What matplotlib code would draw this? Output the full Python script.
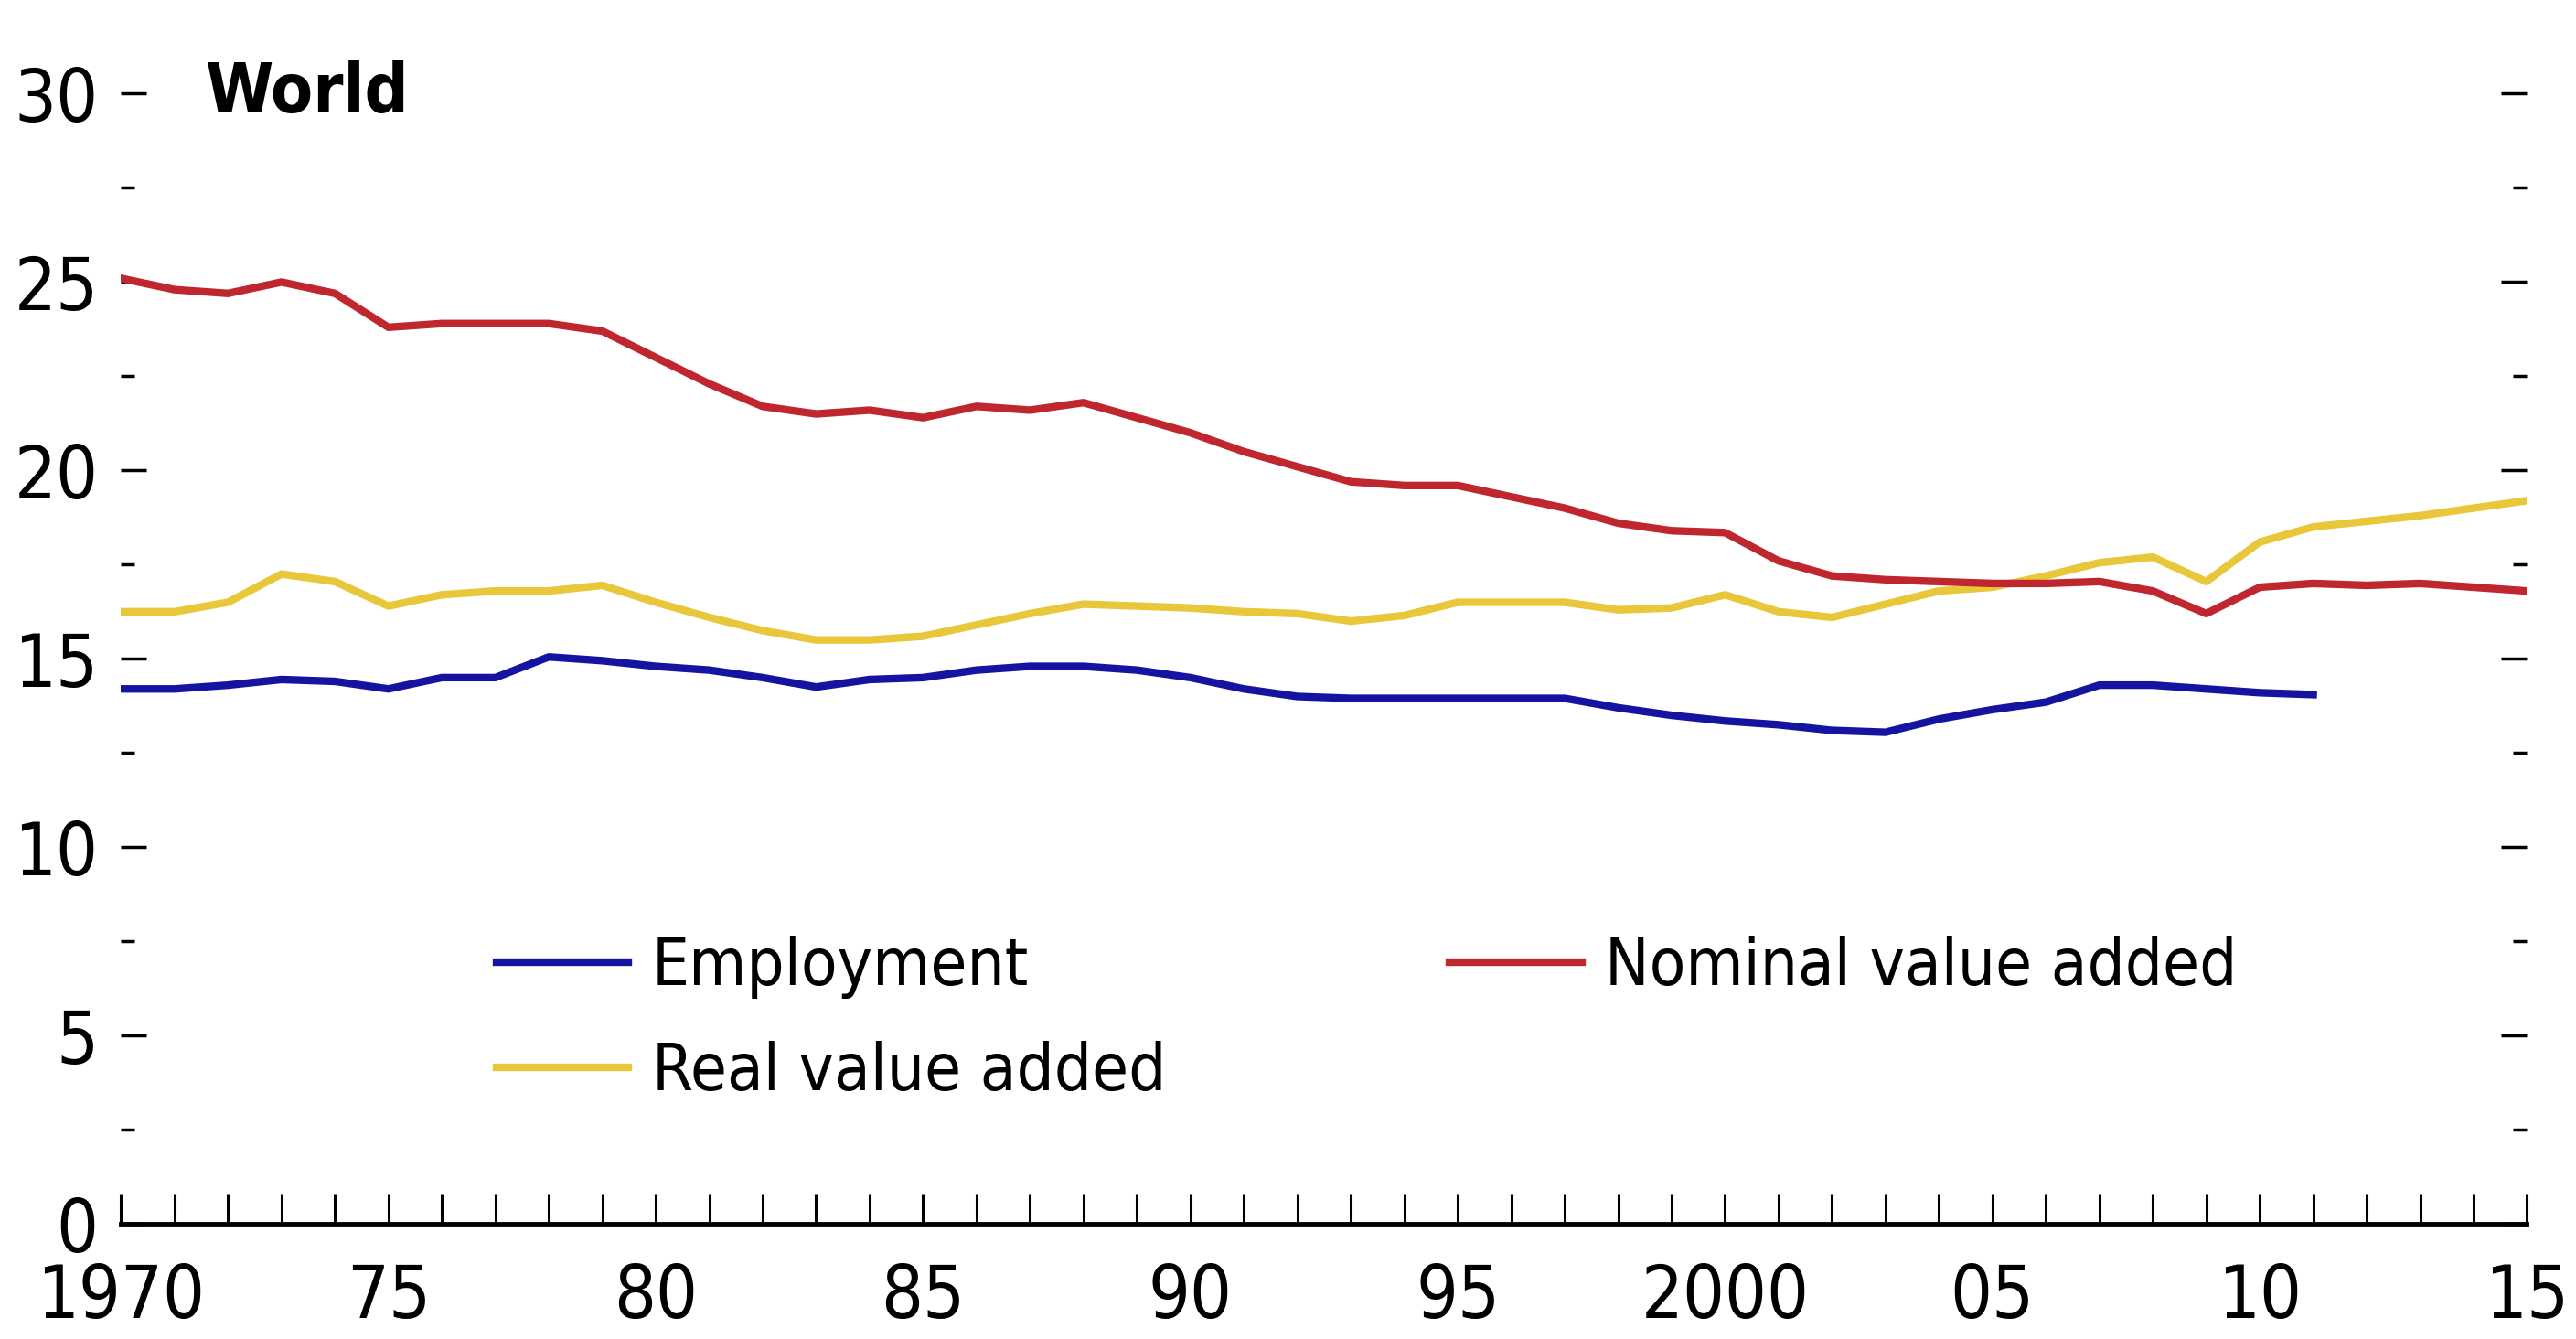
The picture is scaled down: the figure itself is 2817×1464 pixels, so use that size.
import matplotlib.pyplot as plt
from matplotlib.ticker import MultipleLocator
from matplotlib import font_manager
from matplotlib.font_manager import FontProperties

# Data (share of manufacturing, %)
years = list(range(1970, 2016))
nominal_va = [25.1, 24.8, 24.7, 25.0, 24.7, 23.8, 23.9, 23.9, 23.9, 23.7,
              23.0, 22.3, 21.7, 21.5, 21.6, 21.4, 21.7, 21.6, 21.8, 21.4,
              21.0, 20.5, 20.1, 19.7, 19.6, 19.6, 19.3, 19.0, 18.6, 18.4,
              18.35, 17.6, 17.2, 17.1, 17.05, 17.0, 17.0, 17.05, 16.8, 16.2,
              16.9, 17.0, 16.95, 17.0, 16.9, 16.8]
real_va = [16.25, 16.25, 16.5, 17.25, 17.05, 16.4, 16.7, 16.8, 16.8, 16.95,
           16.5, 16.1, 15.75, 15.5, 15.5, 15.6, 15.9, 16.2, 16.45, 16.4,
           16.35, 16.25, 16.2, 16.0, 16.15, 16.5, 16.5, 16.5, 16.3, 16.35,
           16.7, 16.25, 16.1, 16.45, 16.8, 16.9, 17.2, 17.55, 17.7, 17.05,
           18.1, 18.5, 18.65, 18.8, 19.0, 19.2]
emp_years = list(range(1970, 2012))
employment = [14.2, 14.2, 14.3, 14.45, 14.4, 14.2, 14.5, 14.5, 15.05, 14.95,
              14.8, 14.7, 14.5, 14.25, 14.45, 14.5, 14.7, 14.8, 14.8, 14.7,
              14.5, 14.2, 14.0, 13.95, 13.95, 13.95, 13.95, 13.95, 13.7, 13.5,
              13.35, 13.25, 13.1, 13.05, 13.4, 13.65, 13.85, 14.3, 14.3, 14.2,
              14.1, 14.05]

xtick_pos = list(range(1970, 2016, 5))
xtick_labels = ["1970", "75", "80", "85", "90", "95", "2000", "05", "10", "15"]

# look for a narrow font (the original uses a condensed grotesque)
def is_narrow(f):
    return ('Narrow' in f.name or 'Condensed' in f.name
            or str(f.stretch) in ('condensed', 'semi-condensed', 'extra-condensed'))

def wt(f):
    w = f.weight
    if isinstance(w, str):
        w = {'bold': 700, 'heavy': 800, 'black': 900, 'semibold': 600,
             'demibold': 600}.get(w.lower(), 400)
    return w

narrow = [f for f in font_manager.fontManager.ttflist if is_narrow(f)]
narrow_reg = [f for f in narrow if wt(f) == 400 and f.style == 'normal']
narrow_bold = [f for f in narrow if wt(f) >= 700 and f.style == 'normal']

if narrow_reg:
    plt.rcParams['font.family'] = [narrow_reg[0].name, 'DejaVu Sans']
    plt.rcParams['font.stretch'] = narrow_reg[0].stretch
if narrow_bold:
    world_font = FontProperties(fname=narrow_bold[0].fname, size=54)
else:
    world_font = FontProperties(family='DejaVu Sans', weight='bold', size=48)

fig = plt.figure(figsize=(28.17, 14.64), dpi=100)
ax = fig.add_axes([0.047, 0.086, 0.934, 0.844])

ax.plot(emp_years, employment, color='#1414a0', lw=6, label='Employment')
ax.plot(years, real_va, color='#e8c73a', lw=6, label='Real value added')
ax.plot(years, nominal_va, color='#c0262d', lw=6, label='Nominal value added')

ax.set_xlim(1970, 2015)
ax.set_ylim(0, 30)

for s in ['top', 'left', 'right']:
    ax.spines[s].set_visible(False)
ax.spines['bottom'].set_linewidth(3.5)

ax.set_xticks(xtick_pos)
ax.set_xticklabels(xtick_labels)
ax.xaxis.set_minor_locator(MultipleLocator(1))
ax.yaxis.set_major_locator(MultipleLocator(5))
ax.yaxis.set_minor_locator(MultipleLocator(2.5))

ax.tick_params(axis='x', which='both', direction='in', length=23, width=2.2,
               labelsize=58, pad=30)
ax.tick_params(axis='y', which='major', direction='in', length=20, width=2.5,
               left=True, right=True, labelsize=58, pad=18)
ax.tick_params(axis='y', which='minor', direction='in', length=11, width=2.5,
               left=True, right=True)

ax.text(0.035, 1.0, "World", transform=ax.transAxes, fontproperties=world_font,
        va='center', ha='left')

ax.legend(ncol=2, loc='upper left', bbox_to_anchor=(0.156, 0.255),
          frameon=False, fontsize=52, borderpad=0, borderaxespad=0,
          handlelength=2.0, handletextpad=0.35, columnspacing=4.3,
          labelspacing=0.64)

fig.savefig("out.png", dpi=100)
